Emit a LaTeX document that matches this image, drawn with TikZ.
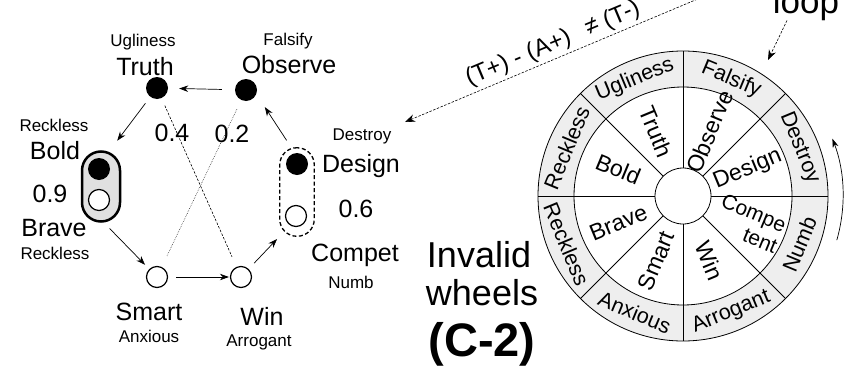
\documentclass[tikz,border=0pt]{standalone}
\usepackage{fontspec}
\setmainfont{Liberation Sans}
\usepackage{tikz}
\usetikzlibrary{arrows.meta}
\definecolor{ringgray}{RGB}{238, 238, 238}
\definecolor{pillgray}{RGB}{224, 224, 224}
\newcommand{\fsz}[1]{\fontsize{#1}{#1}\selectfont}

\begin{document}
\begin{tikzpicture}[x=1pt, y=1pt,
    fullpt/.style={circle, fill=black, minimum size=22pt, inner sep=0pt},
    openpt/.style={circle, draw, fill=white, line width=1.2pt, minimum size=21pt, inner sep=0pt},
    biglbl/.style={font=\fsz{25}, anchor=base, inner sep=0pt},
    smalllbl/.style={font=\fsz{17}, anchor=base, inner sep=0pt},
    flow/.style={-{Stealth[length=9pt, width=6.5pt]}, line width=0.7pt},
    farflow/.style={-{Stealth[length=10pt, width=7.5pt]}, line width=0.6pt, dash pattern=on 2.5pt off 1.5pt},
    wheelline/.style={line width=0.8pt},
    ringlbl/.style={font=\fsz{21.5}, inner sep=0pt},
    seclbl/.style={font=\fsz{23}, inner sep=0pt, align=right}
]
    \useasboundingbox (0,0) rectangle (850,-375);
    \clip (0,0) rectangle (850,-375);
    \fill[white] (0,0) rectangle (850,-375);

    % pairs
    \node[draw, line width=2.5pt, fill=pillgray, rounded corners=19pt,
          minimum width=38pt, minimum height=70pt] (boldpair) at (101,-186.5) {};
    \node[draw, line width=1.3pt, dash pattern=on 4pt off 2.5pt, rounded corners=17pt,
          minimum width=34.5pt, minimum height=88.5pt] (designpair) at (297,-192) {};

    \node[fullpt] (truth) at (157,-88) {};
    \node[fullpt] (observe) at (246,-90) {};
    \node[fullpt] (bold) at (99,-169) {};
    \node[openpt] (brave) at (99,-200) {};
    \node[fullpt] (design) at (297,-164) {};
    \node[openpt] (compet) at (296,-216) {};
    \node[openpt] (smart) at (157,-277) {};
    \node[openpt] (win) at (241,-277) {};

    \node[smalllbl] (truthsub) at (143,-46) {Ugliness};
    \node[biglbl] (truthtxt) at (145,-75) {Truth};
    \node[smalllbl] (observesub) at (288,-45) {Falsify};
    \node[biglbl] (observetxt) at (289,-73) {Observe};
    \node[smalllbl] (boldsub) at (54,-131) {Reckless};
    \node[biglbl] (boldtxt) at (55,-159) {Bold};
    \node[biglbl] (boldval) at (50,-202) {0.9};
    \node[biglbl] (bravetxt) at (54,-236) {Brave};
    \node[smalllbl] (bravesub) at (55,-259) {Reckless};
    \node[biglbl] (crossa) at (172,-141) {0.4};
    \node[biglbl] (crossb) at (232,-142) {0.2};
    \node[smalllbl] (designsub) at (362,-140) {Destroy};
    \node[biglbl] (designtxt) at (361,-172) {Design};
    \node[biglbl] (designval) at (356,-217) {0.6};
    \node[biglbl] (compettxt) at (355,-261) {Compet};
    \node[smalllbl] (competsub) at (351,-288) {Numb};
    \node[biglbl] (smarttxt) at (149,-320) {Smart};
    \node[smalllbl] (smartsub) at (149,-342) {Anxious};
    \node[biglbl] (wintxt) at (262,-325) {Win};
    \node[smalllbl] (winsub) at (259,-346) {Arrogant};

    \draw[flow, shorten <=13pt, shorten >=11pt] (observe) -- (truth);
    \draw[flow, shorten <=8pt, shorten >=12pt] (truth) -- ([xshift=9pt]boldpair.north);
    \draw[flow, shorten <=8pt, shorten >=6pt] ([xshift=3pt]boldpair.south) -- (smart);
    \draw[flow, shorten <=8pt, shorten >=1pt] (smart) -- (win);
    \draw[flow, shorten <=8pt, shorten >=3pt] (win) -- (designpair.south west);
    \draw[flow, shorten <=8pt, shorten >=7pt] ([xshift=-6pt]designpair.north) -- ([xshift=15pt]observe.south);
    \draw[line width=0.6pt, dash pattern=on 2.5pt off 1.5pt, shorten <=8pt, shorten >=11pt] (truth) -- (win);
    \draw[line width=0.5pt, dash pattern=on 0.6pt off 1.2pt, shorten <=10pt, shorten >=12pt] (observe) -- (smart);

    % rule arrow
    \coordinate (eqstart) at (712,7);
    \coordinate (eqtip) at (405,-122);
    \draw[farflow] (eqstart) -- (eqtip)
        node[pos=0.5, sloped, above=3pt, font=\fsz{24}, inner sep=0pt] (eqlbl) {(T+) - (A+) \, ≠ (T-)};

    \node[font=\fsz{35}, anchor=base, inner sep=0pt] (loop) at (806,-13) {loop};
    \coordinate (looptip) at (768,-60);
    \draw[farflow] ([xshift=-19pt]loop.south) -- (looptip);

    \node[font=\fsz{36}, anchor=base, inner sep=0pt] (invalid) at (479,-267) {Invalid};
    \node[font=\fsz{36}, anchor=base, inner sep=0pt] (wheels) at (482,-305) {wheels};
    \node[font=\bfseries\fsz{47}, anchor=base, inner sep=0pt] (cname) at (482,-356) {(C-2)};

    % wheel
    \begin{scope}[shift={(683,-196)}]
        \fill[ringgray] (0,0) circle[radius=145pt];
        \fill[white] (0,0) circle[radius=109pt];
        \draw[wheelline] (0,0) circle[radius=145pt];
        \draw[wheelline] (0,0) circle[radius=109pt];
        \foreach \a in {0,45,...,315}
            \draw[wheelline] (\a:28) -- (\a:145);
        \draw[wheelline, fill=white] (0,0) circle[radius=28pt];
        \foreach \a/\r/\t in {112.5/22.5/Ugliness, 67.5/-22.5/Falsify, 22.5/-67.5/Destroy,
                -22.5/67.5/Numb, -67.5/22.5/Arrogant, -112.5/-22.5/Anxious,
                -157.5/-67.5/Reckless, 157.5/67.5/Reckless}
            \node[ringlbl, rotate=\r] at (\a:126) {\t};
        \foreach \a/\r/\t in {112.5/-67.5/Truth, 67.5/67.5/Observe, 22.5/22.5/Design,
                -67.5/-67.5/Win, -112.5/67.5/Smart, -157.5/22.5/Brave, 157.5/-22.5/Bold}
            \node[seclbl, rotate=\r] at (\a:70) {\t};
        \node[seclbl, font=\fsz{21}, rotate=-22.5] at (-22.5:72) {Compe\\[2pt]tent};
        \draw[-{Stealth[length=9pt, width=6pt]}, line width=0.7pt]
            (-16:160) arc[start angle=-16, end angle=21, radius=160pt];
    \end{scope}
\end{tikzpicture}
\end{document}
